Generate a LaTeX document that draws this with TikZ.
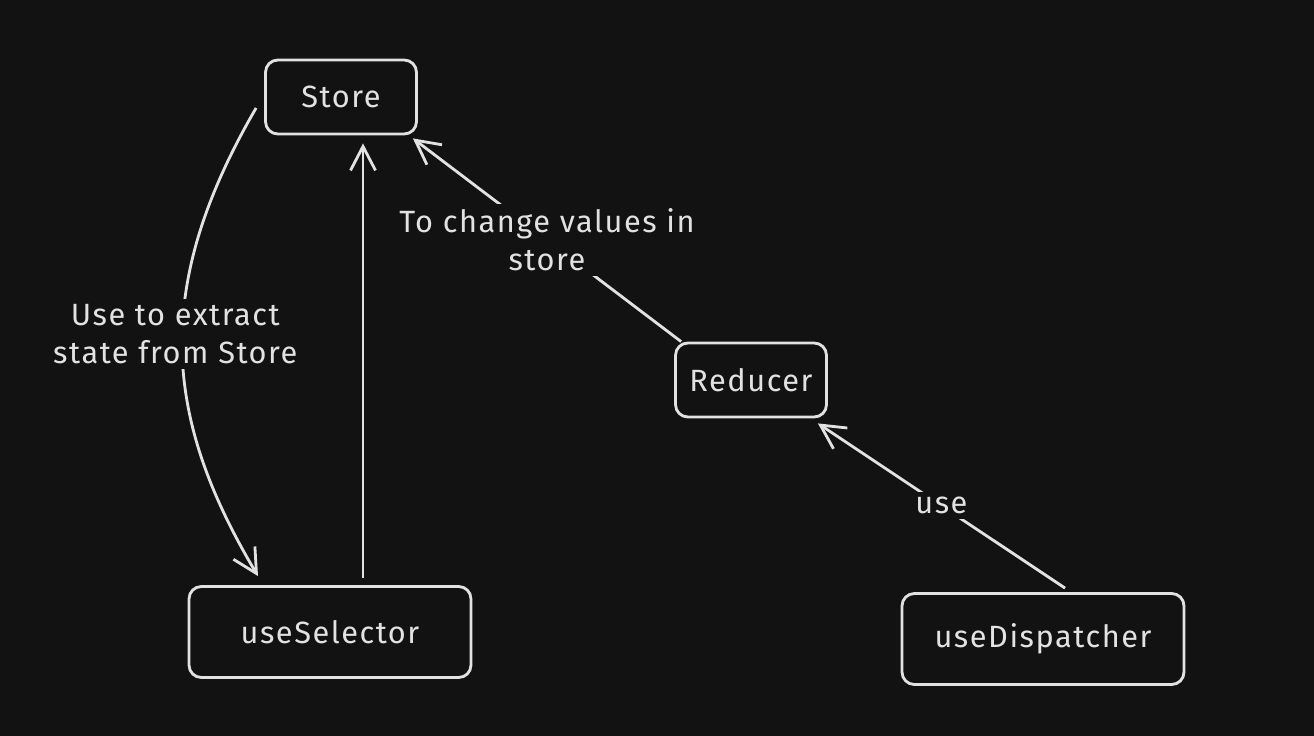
\documentclass[tikz,border=0pt]{standalone}
\usepackage{fontspec}
\setmainfont{Fira Sans}[LetterSpace=5]
\usepackage{xcolor}
\usetikzlibrary{arrows.meta,calc}
\definecolor{Bg}{HTML}{121212}
\definecolor{Ink}{HTML}{E2E2E2}

\begin{document}
\begin{tikzpicture}[x=0.02cm,y=-0.02cm,
    box/.style={draw=Ink,line width=1.6pt,rounded corners=7pt,text=Ink,font=\fontsize{17.5}{21.5}\selectfont,inner sep=0pt},
    arr/.style={-{Straight Barb[length=4.8mm,width=5mm,line width=1.6pt]},line width=1.6pt,draw=Ink},
    lbl/.style={fill=Bg,text=Ink,align=center,font=\fontsize{17.5}{21.5}\selectfont,inner sep=3pt}]
    \fill[Bg] (0,0) rectangle (1314,736);
    \node[box,minimum width=3.02cm,minimum height=1.48cm] (store) at (341,97) {Store};
    \node[box,minimum width=5.64cm,minimum height=1.82cm] (sel) at (330,632) {useSelector};
    \node[box,minimum width=3.02cm,minimum height=1.48cm] (red) at (751,380) {Reducer};
    \node[box,minimum width=5.64cm,minimum height=1.82cm] (disp) at (1043,639) {useDispatcher};
    \draw[arr] ($(store.west)+(-8,11)$) .. controls (150,290) and (165,420) .. ($(sel.north)+(-72,-9)$)
        node[lbl,pos=0.46,xshift=-4pt] {Use to extract\\state from Store};
    \draw[arr] ($(sel.north)+(33,-7)$) -- ($(store.south)+(22,8)$);
    \draw[arr] ($(red.north west)+(7,0)$) -- ($(store.south east)+(-5,3)$)
        node[lbl,midway] {To change values in\\store};
    \draw[arr] ($(disp.north)+(22,-4)$) -- ($(red.south east)+(-10,5)$)
        node[lbl,midway] {use};
\end{tikzpicture}
\end{document}
